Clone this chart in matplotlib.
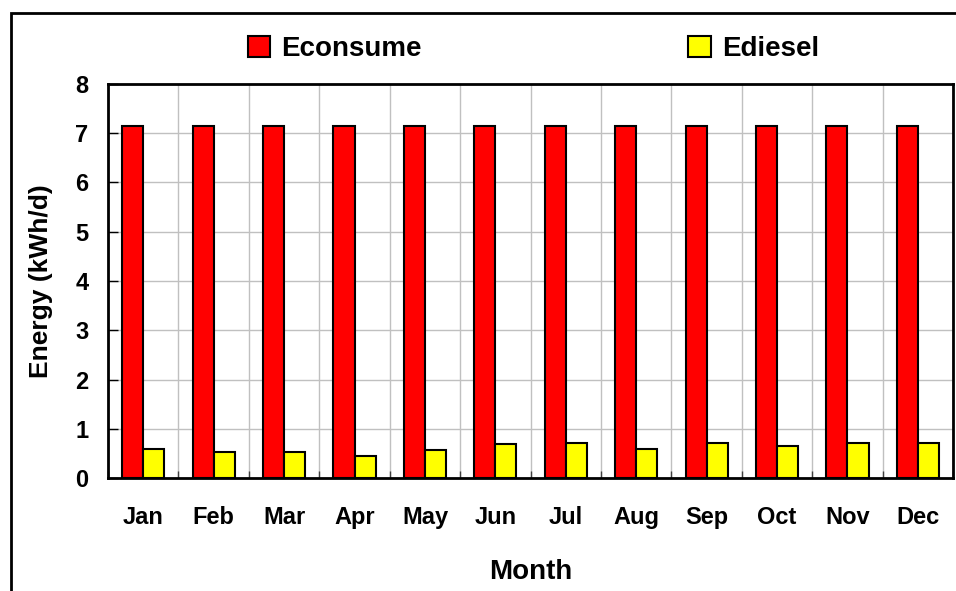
import numpy as np
import matplotlib.pyplot as plt
from matplotlib.patches import Rectangle

# Data
months = ["Jan", "Feb", "Mar", "Apr", "May", "Jun",
          "Jul", "Aug", "Sep", "Oct", "Nov", "Dec"]
econsume = [7.15, 7.15, 7.15, 7.15, 7.15, 7.15,
            7.15, 7.15, 7.15, 7.15, 7.15, 7.15]
ediesel = [0.60, 0.53, 0.53, 0.45, 0.57, 0.69,
           0.72, 0.60, 0.72, 0.65, 0.72, 0.72]

plt.rcParams["font.family"] = ["Liberation Sans", "DejaVu Sans"]
plt.rcParams["font.weight"] = "bold"

fig = plt.figure(figsize=(9.56, 5.91), dpi=100)
ax = fig.add_axes([0.113, 0.191, 0.884, 0.667])

x = np.arange(len(months))
w = 0.3
ax.bar(x - w / 2, econsume, w, color="#ff0000", edgecolor="black",
       linewidth=1.5, label="Econsume", zorder=3)
ax.bar(x + w / 2, ediesel, w, color="#ffff00", edgecolor="black",
       linewidth=1.5, label="Ediesel", zorder=3)

ax.set_xlim(-0.5, len(months) - 0.5)
ax.set_ylim(0, 8)
ax.set_yticks(range(0, 9))
ax.set_xticks(x)
ax.set_xticklabels(months)
ax.set_xticks(np.arange(-0.5, len(months)), minor=True)

ax.tick_params(axis="x", which="major", length=0, pad=20, labelsize=17)
ax.tick_params(axis="x", which="minor", length=5, direction="in",
               color="#404040", width=1)
ax.tick_params(axis="y", direction="in", length=7, width=1,
               pad=14, labelsize=17)

ax.grid(axis="y", color="#c0c0c0", linewidth=1, zorder=0)
ax.grid(axis="x", which="minor", color="#c0c0c0", linewidth=1, zorder=0)
ax.set_axisbelow(True)

for s in ax.spines.values():
    s.set_linewidth(2)
    s.set_zorder(4)

ax.set_xlabel("Month", fontsize=20, fontweight="bold", labelpad=22)
ax.set_ylabel("Energy (kWh/d)", fontsize=19, fontweight="bold", labelpad=16)

fig.legend(loc="center", bbox_to_anchor=(0.558, 0.917), ncol=2,
           frameon=False, fontsize=20, columnspacing=9.6,
           handlelength=0.8, handleheight=0.8, handletextpad=0.4)

# outer chart frame
fig.patches.append(Rectangle((0.012, -0.1), 1.2, 0.1 + 0.978,
                             transform=fig.transFigure, fill=False,
                             edgecolor="black", linewidth=2))

fig.savefig("out.png", dpi=100)
